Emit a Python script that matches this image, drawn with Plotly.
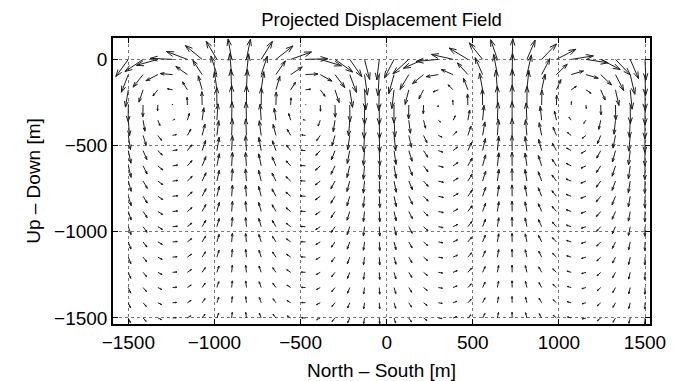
import numpy as np
import plotly.graph_objects as go

# grid of the displacement field [m]
north_south = np.linspace(-1500, 1500, 36)
up_down = np.linspace(0, -1500, 18)

# relative amplitude of each grid column
col_up = [-0.83, -0.59, -0.29, 0.05, 0.38, 0.67, 0.88, 0.99, 0.98, 0.87, 0.65, 0.36,
          0.03, -0.31, -0.61, -0.84, -0.97, -0.99, -0.90, -0.70, -0.43, -0.10, 0.24, 0.55,
          0.80, 0.95, 1.00, 0.93, 0.75, 0.49, 0.17, -0.17, -0.49, -0.75, -0.93, -1.00]
col_ns = [-0.56, -0.81, -0.96, -1.00, -0.93, -0.75, -0.48, -0.16, 0.18, 0.50, 0.76, 0.93,
          1.00, 0.95, 0.79, 0.54, 0.23, -0.11, -0.43, -0.71, -0.90, -0.99, -0.97, -0.84,
          -0.60, -0.30, 0.03, 0.37, 0.66, 0.87, 0.99, 0.99, 0.87, 0.66, 0.37, 0.04]

# arrow length profile with depth, per grid row [m]
prof_up = [120, 123, 121, 116, 108, 98, 88, 80, 72, 66, 60, 55, 50, 46, 42, 39, 36, 33]
prof_ns = [130, 72, 30, 2, -13, -22, -27, -29, -30, -30, -29, -28, -27, -26, -25, -24, -23, -22]

X, Y = np.meshgrid(north_south, up_down)
U = np.outer(prof_ns, col_ns)
V = np.outer(prof_up, col_up)

alpha, beta = 0.33, 0.33
xs, ys = [], []
for x, y, u, v in zip(X.ravel(), Y.ravel(), U.ravel(), V.ravel()):
    xe, ye = x + u, y + v
    xs += [x, xe, None]
    ys += [y, ye, None]
    xs += [xe - alpha * (u + beta * v), xe, xe - alpha * (u - beta * v), None]
    ys += [ye - alpha * (v - beta * u), ye, ye - alpha * (v + beta * u), None]

fig = go.Figure()
fig.add_trace(go.Scatter(x=xs, y=ys, mode="lines",
                         line=dict(color="#1e1e1e", width=1),
                         hoverinfo="skip", showlegend=False))

FONT = "Liberation Sans, Arial, Helvetica, sans-serif"
fig.update_layout(
    width=684, height=381,
    margin=dict(l=105, r=42, t=30, b=65),
    paper_bgcolor="white", plot_bgcolor="white",
    font=dict(family=FONT, size=19, color="black"),
    title=dict(text="Projected Displacement Field", x=0.5, xref="paper",
               y=1 - 12 / 381, yref="container", yanchor="middle",
               font=dict(size=18.5)),
)
axis_common = dict(showline=True, linecolor="black", linewidth=1.5, mirror="ticks",
                   ticks="inside", ticklen=5, tickcolor="black", tickwidth=1,
                   showgrid=True, gridcolor="#7a7a7a", gridwidth=1, griddash="dot",
                   zeroline=False, tickfont=dict(size=19))
fig.update_xaxes(range=[-1589, 1529], tickvals=[-1500, -1000, -500, 0, 500, 1000, 1500],
                 ticktext=["\u22121500", "\u22121000", "\u2212500", "0", "500", "1000", "1500"],
                 title=dict(text="North \u2013 South [m]", standoff=12, font=dict(size=19)),
                 **axis_common)
fig.update_yaxes(range=[-1535, 124], tickvals=[-1500, -1000, -500, 0],
                 ticktext=["\u22121500", "\u22121000", "\u2212500", "0"],
                 title=dict(text="Up \u2013 Down [m]", standoff=8, font=dict(size=19)),
                 **axis_common)

fig.write_html("out.html")
